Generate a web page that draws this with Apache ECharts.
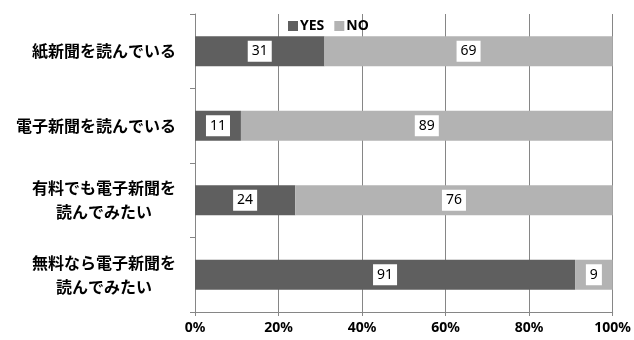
<!DOCTYPE html>
<html>
<head>
<meta charset="utf-8">
<script src="https://cdn.jsdelivr.net/npm/echarts@6/dist/echarts.min.js"></script>
<style>
  html, body { margin: 0; padding: 0; background: #fff; }
  #chart { width: 634px; height: 340px; }
</style>
</head>
<body>
<div id="chart"></div>
<script>
var categories = ['紙新聞を読んでいる', '電子新聞を読んでいる', '有料でも電子新聞を\n読んでみたい', '無料なら電子新聞を\n読んでみたい'];
var yesValues = [31, 11, 24, 91];
var noValues = [69, 89, 76, 9];
var tickValues = [0, 20, 40, 60, 80, 100];

var chart = echarts.init(document.getElementById('chart'));

var barLabel = {
  show: true,
  position: 'inside',
  color: '#000',
  fontFamily: 'Noto Sans',
  fontSize: 14,
  backgroundColor: '#fff',
  padding: [4, 4, 3, 4]
};

var option = {
  animation: false,
  textStyle: { fontFamily: '"Noto Sans CJK JP", sans-serif' },
  legend: {
    top: 14,
    left: 283,
    itemWidth: 10,
    itemHeight: 10,
    itemGap: 10,
    icon: 'rect',
    textStyle: { fontSize: 14, fontWeight: 'bold', color: '#000', fontFamily: 'Noto Sans', padding: [0, 0, 0, -3] },
    data: ['YES', 'NO']
  },
  grid: { left: 195, right: 21, top: 14, bottom: 28 },
  xAxis: {
    type: 'value',
    min: tickValues[0],
    max: tickValues[tickValues.length - 1],
    interval: 20,
    axisLine: { show: true, lineStyle: { color: '#868686', width: 1 } },
    axisTick: { show: true, length: 4, lineStyle: { color: '#868686' } },
    splitLine: { show: true, lineStyle: { color: '#868686', width: 1 } },
    axisLabel: {
      formatter: '{value}%',
      color: '#000',
      fontSize: 14,
      fontWeight: 'bold',
      fontFamily: 'Noto Sans',
      margin: 9
    }
  },
  yAxis: {
    type: 'category',
    inverse: true,
    data: categories,
    axisLine: { show: true, lineStyle: { color: '#868686', width: 1 } },
    axisTick: { show: true, length: 5, lineStyle: { color: '#868686' } },
    axisLabel: {
      margin: 19,
      color: '#000',
      fontSize: 16,
      fontWeight: 'bold',
      lineHeight: 24,
      formatter: function (v) {
        return v.split('\n').map(function (s) { return '{c|' + s + '}'; }).join('\n');
      },
      rich: {
        c: { align: 'center', fontSize: 16, fontWeight: 'bold', color: '#000', lineHeight: 24 }
      }
    }
  },
  series: [
    {
      name: 'YES',
      type: 'bar',
      stack: 'total',
      barWidth: 30,
      itemStyle: { color: '#5f5f5f' },
      label: barLabel,
      data: yesValues
    },
    {
      name: 'NO',
      type: 'bar',
      stack: 'total',
      barWidth: 30,
      itemStyle: { color: '#b3b3b3' },
      label: barLabel,
      data: noValues
    }
  ]
};

chart.setOption(option);
</script>
</body>
</html>
